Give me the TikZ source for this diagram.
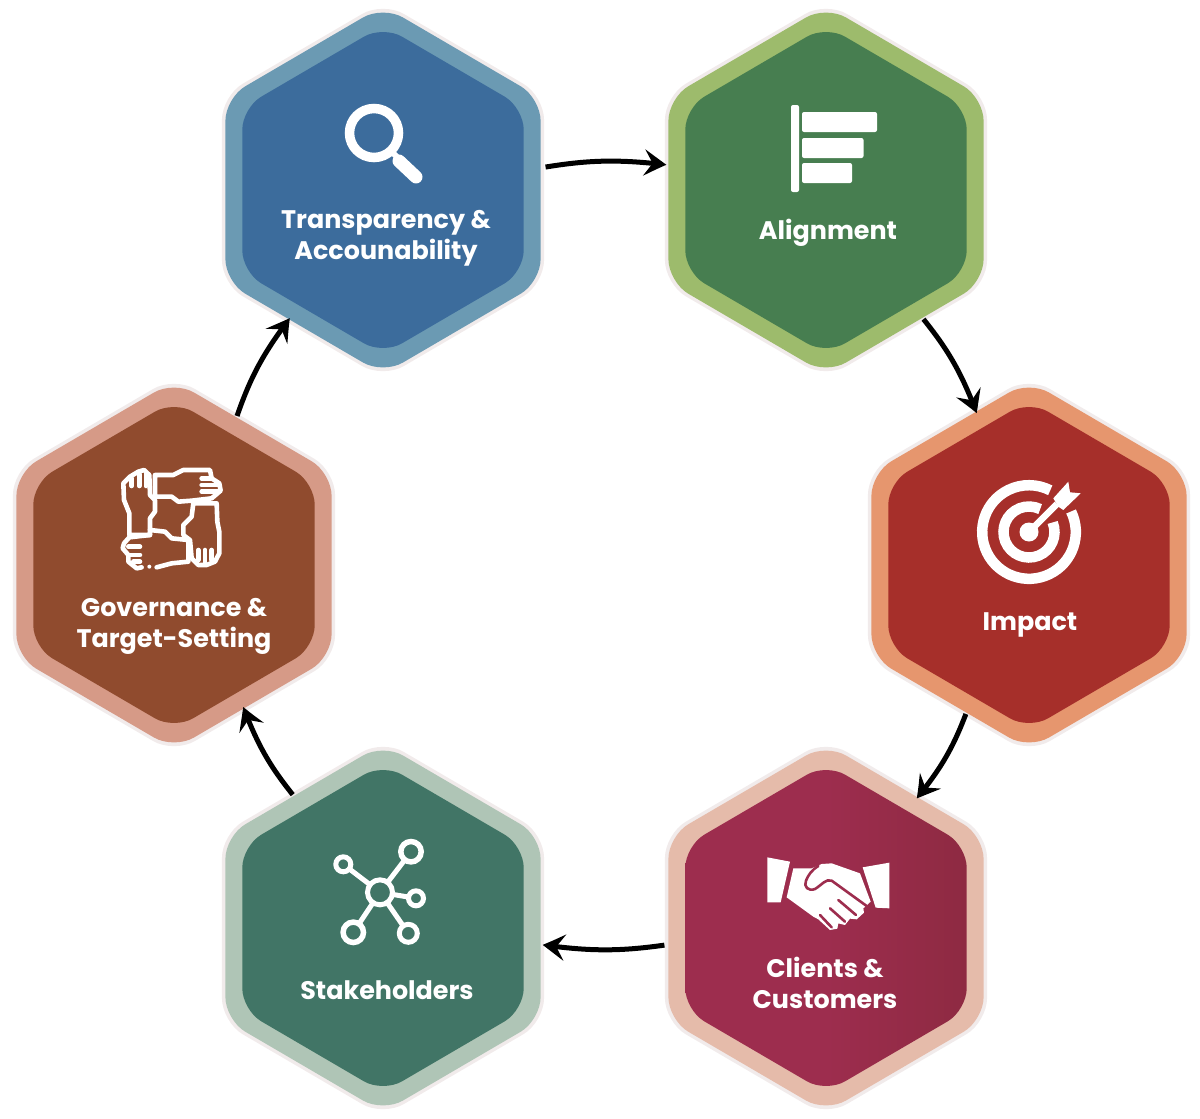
\documentclass[tikz,border=0pt]{standalone}
\usepackage{fontspec}
\setmainfont{Poppins}
\usetikzlibrary{shapes.geometric,arrows.meta,bending}
\definecolor{haloc}{HTML}{F1EBEB}
\definecolor{tOut}{HTML}{6B9AB3}\definecolor{tIn}{HTML}{3C6C9C}
\definecolor{aOut}{HTML}{9DBB6C}\definecolor{aIn}{HTML}{477E50}
\definecolor{iOut}{HTML}{E6966E}\definecolor{iIn}{HTML}{A62F2A}
\definecolor{cOut}{HTML}{E5BBAA}\definecolor{cInL}{HTML}{9D2D4E}\definecolor{cInR}{HTML}{8E2A42}
\definecolor{sOut}{HTML}{AFC5B6}\definecolor{sIn}{HTML}{417566}
\definecolor{gOut}{HTML}{D69A87}\definecolor{gIn}{HTML}{904B2E}
\tikzset{
  x=1pt,y=-1pt,
  hexbase/.style={regular polygon,regular polygon sides=6,shape border rotate=30,inner sep=0pt,outer sep=0pt},
  halo/.style={hexbase,minimum size=372pt,fill=haloc,rounded corners=24pt,transform shape},
  outerhex/.style={hexbase,minimum size=364pt,rounded corners=23pt},
  innerhex/.style={hexbase,minimum size=325pt,rounded corners=22pt,transform shape},
  lab/.style={text=white,align=center,font=\fontsize{25.4}{31}\selectfont\bfseries,inner sep=0pt},
  conn/.style={draw=black,line width=5pt,-{Stealth[length=23pt,width=26pt,inset=9pt,bend]}},
  icon/.style={draw=white,line width=4.6pt,line cap=round,line join=round},
  iconfill/.style={fill=white,draw=none,rounded corners=2pt},
}
\begin{document}
\begin{tikzpicture}
\useasboundingbox (0,0) rectangle (1200,1119);
% hexagons
\foreach \cx/\cy/\co/\ci in {383/190/tOut/tIn,826/190/aOut/aIn,1029/565/iOut/iIn,383/928/sOut/sIn,174/565/gOut/gIn}{
  \begin{scope}[shift={(\cx,\cy)},yscale=1.012]
  \node[halo] at (0,0) {};
  \node[outerhex,transform shape,fill=\co] at (0,0) {};
  \node[innerhex,fill=\ci] at (0,0) {};
  \end{scope}
}
\begin{scope}[shift={(826,928)},yscale=1.012]
\node[halo] at (0,0) {};
\node[outerhex,transform shape,fill=cOut] at (0,0) {};
\node[innerhex,left color=cInL,right color=cInR,middle color=cInL] at (0,0) {};
\end{scope}
% anchors for connectors
\node[outerhex] (T) at (383,190) {};
\node[outerhex] (A) at (826,190) {};
\node[outerhex] (I) at (1029,565) {};
\node[outerhex] (C) at (826,928) {};
\node[outerhex] (S) at (383,928) {};
\node[outerhex] (G) at (174,565) {};
% labels
\node[lab] (lT) at (386,238.5) {Transparency \&\\Accounability};
\node[lab] (lA) at (828,233) {Alignment};
\node[lab] (lI) at (1030,625) {Impact};
\node[lab] (lC) at (825,983) {Clients \&\\Customers};
\node[lab] (lS) at (387,990) {Stakeholders};
\node[lab] (lG) at (174,626) {Governance \&\\Target-Setting};
% connectors
\draw[conn,shorten <=5pt,shorten >=2pt] (T.8.7) to[bend left=8] (A.171.4);
\draw[conn,shorten <=3pt,shorten >=0pt] (A.-53.5) to[bend left=9] (I.109.2);
\draw[conn,shorten <=3pt,shorten >=0pt] (I.247.4) to[bend left=9] (C.55.1);
\draw[conn,shorten <=4pt,shorten >=2pt] (C.186) to[bend left=8] (S.-6);
\draw[conn,shorten <=3pt,shorten >=0pt] (S.124.1) to[bend left=9] (G.-64.6);
\draw[conn,shorten <=3pt,shorten >=0pt] (G.67.2) to[bend left=9] (T.234.4);
% magnifier
\draw[white,line width=9.5pt] (374,133) circle[radius=24.5];
\draw[white,line width=6pt] (391,151) -- (399,159);
\draw[white,line width=13pt,line cap=round] (399,161) -- (416,177);
% alignment icon
\fill[iconfill] (791,105) rectangle (799,192);
\fill[iconfill] (802,112) rectangle (877,132);
\fill[iconfill] (802,138) rectangle (863.5,158);
\fill[iconfill] (802,163) rectangle (852,183);
% target
\draw[white,line width=10.5pt] (1029,532) ++(-26:46.8) arc[start angle=-26,end angle=297,radius=46.8];
\draw[white,line width=10.5pt] (1029,532) ++(-22:25.5) arc[start angle=-22,end angle=296,radius=25.5];
\fill[white] (1029,532) circle[radius=9.5];
\draw[white,line width=6.5pt] (1029,532) -- (1057,504);
\fill[white] (1053.3,498.3) -- (1068.3,481.7) -- (1070,492.3) -- (1080.7,493.3) -- (1063.3,510) -- (1058.3,506.7) -- cycle;
% handshake
\begin{scope}[shift={(750,840)},x=0.3333pt,y=-0.3333pt]
  \fill[white] (52,52) -- (120,65) -- (92,187) -- (52,187) -- cycle;
  \fill[white] (338,82) -- (418,68) -- (418,205) -- (377,203) -- cycle;
  \fill[white] (130,85) -- (185,85) -- (215,72) -- (245,70) -- (330,100) -- (362,185) -- (340,205) -- (342,218) -- (320,238) -- (300,236) -- (285,255) -- (265,250) -- (262,266) -- (240,270) -- (205,238) -- (190,230) -- (110,172) -- cycle;
  \draw[cInL,line width=2.6pt,line cap=round,line join=round] (350,198) -- (245,122) .. controls (228,115) and (215,135) .. (195,147) .. controls (175,155) and (160,140) .. (168,122) .. controls (175,105) and (185,90) .. (205,78);
  \draw[cInL,line width=2.6pt,line cap=round] (265,180) -- (318,225);
  \draw[cInL,line width=2.6pt,line cap=round] (240,205) -- (285,245);
  \draw[cInL,line width=2.6pt,line cap=round] (210,225) -- (245,262);
\end{scope}
% network
\draw[white,line width=5pt] (380,892.3) -- (411,851.7) (380,892.3) -- (343.3,864.3) (380,892.3) -- (416,898.3) (380,892.3) -- (353.3,932.3) (380,892.3) -- (408.3,933.3);
\filldraw[draw=white,fill=sIn,line width=5pt] (380,892.3) circle[radius=12.5];
\filldraw[draw=white,fill=sIn,line width=5.5pt] (411,851.7) circle[radius=10.2];
\filldraw[draw=white,fill=sIn,line width=5pt] (343.3,864.3) circle[radius=7.5];
\filldraw[draw=white,fill=sIn,line width=5pt] (416,898.3) circle[radius=7.5];
\filldraw[draw=white,fill=sIn,line width=5.5pt] (353.3,932.3) circle[radius=10.2];
\filldraw[draw=white,fill=sIn,line width=5pt] (408.3,933.3) circle[radius=9];
% hands
\begin{scope}[shift={(100,450)},x=0.3333pt,y=-0.3333pt]
  \draw[icon] (88,255) -- (88,190) -- (72,150) -- (70,100) -- (90,80) -- (115,65) -- (132,60) -- (148,75) -- (150,135) -- (165,150) -- (165,185) -- (150,205) -- (150,255) -- cycle;
  \draw[icon] (95,85) -- (95,108) (118,72) -- (118,108) (138,72) -- (138,108);
  \draw[icon] (165,75) -- (220,75) -- (250,60) -- (330,60) -- (335,85) -- (358,100) -- (362,122) -- (335,145) -- (275,152) -- (235,155) -- (215,140) -- (165,140) -- cycle;
  \draw[icon] (305,85) -- (335,85) (305,105) -- (355,105) (305,125) -- (355,125);
  \draw[icon] (280,160) -- (350,160) -- (352,215) -- (358,245) -- (358,310) -- (345,335) -- (320,345) -- (295,345) -- (275,325) -- (270,270) -- (250,255) -- (250,225) -- (275,200) -- cycle;
  \draw[icon] (295,300) -- (295,330) (315,300) -- (315,340) (335,300) -- (335,330);
  \draw[icon] (265,270) -- (215,265) -- (195,245) -- (150,240) (150,255) -- (88,262) -- (72,280) -- (68,295) -- (85,315) -- (85,335) -- (110,355) -- (125,352);
  \draw[icon] (170,352) -- (215,340) -- (265,335) -- (265,270);
  \draw[icon] (85,290) -- (120,290) (88,315) -- (120,315) (100,335) -- (120,335);
  \fill[white] (148,350) circle[radius=6];
\end{scope}
\end{tikzpicture}
\end{document}
